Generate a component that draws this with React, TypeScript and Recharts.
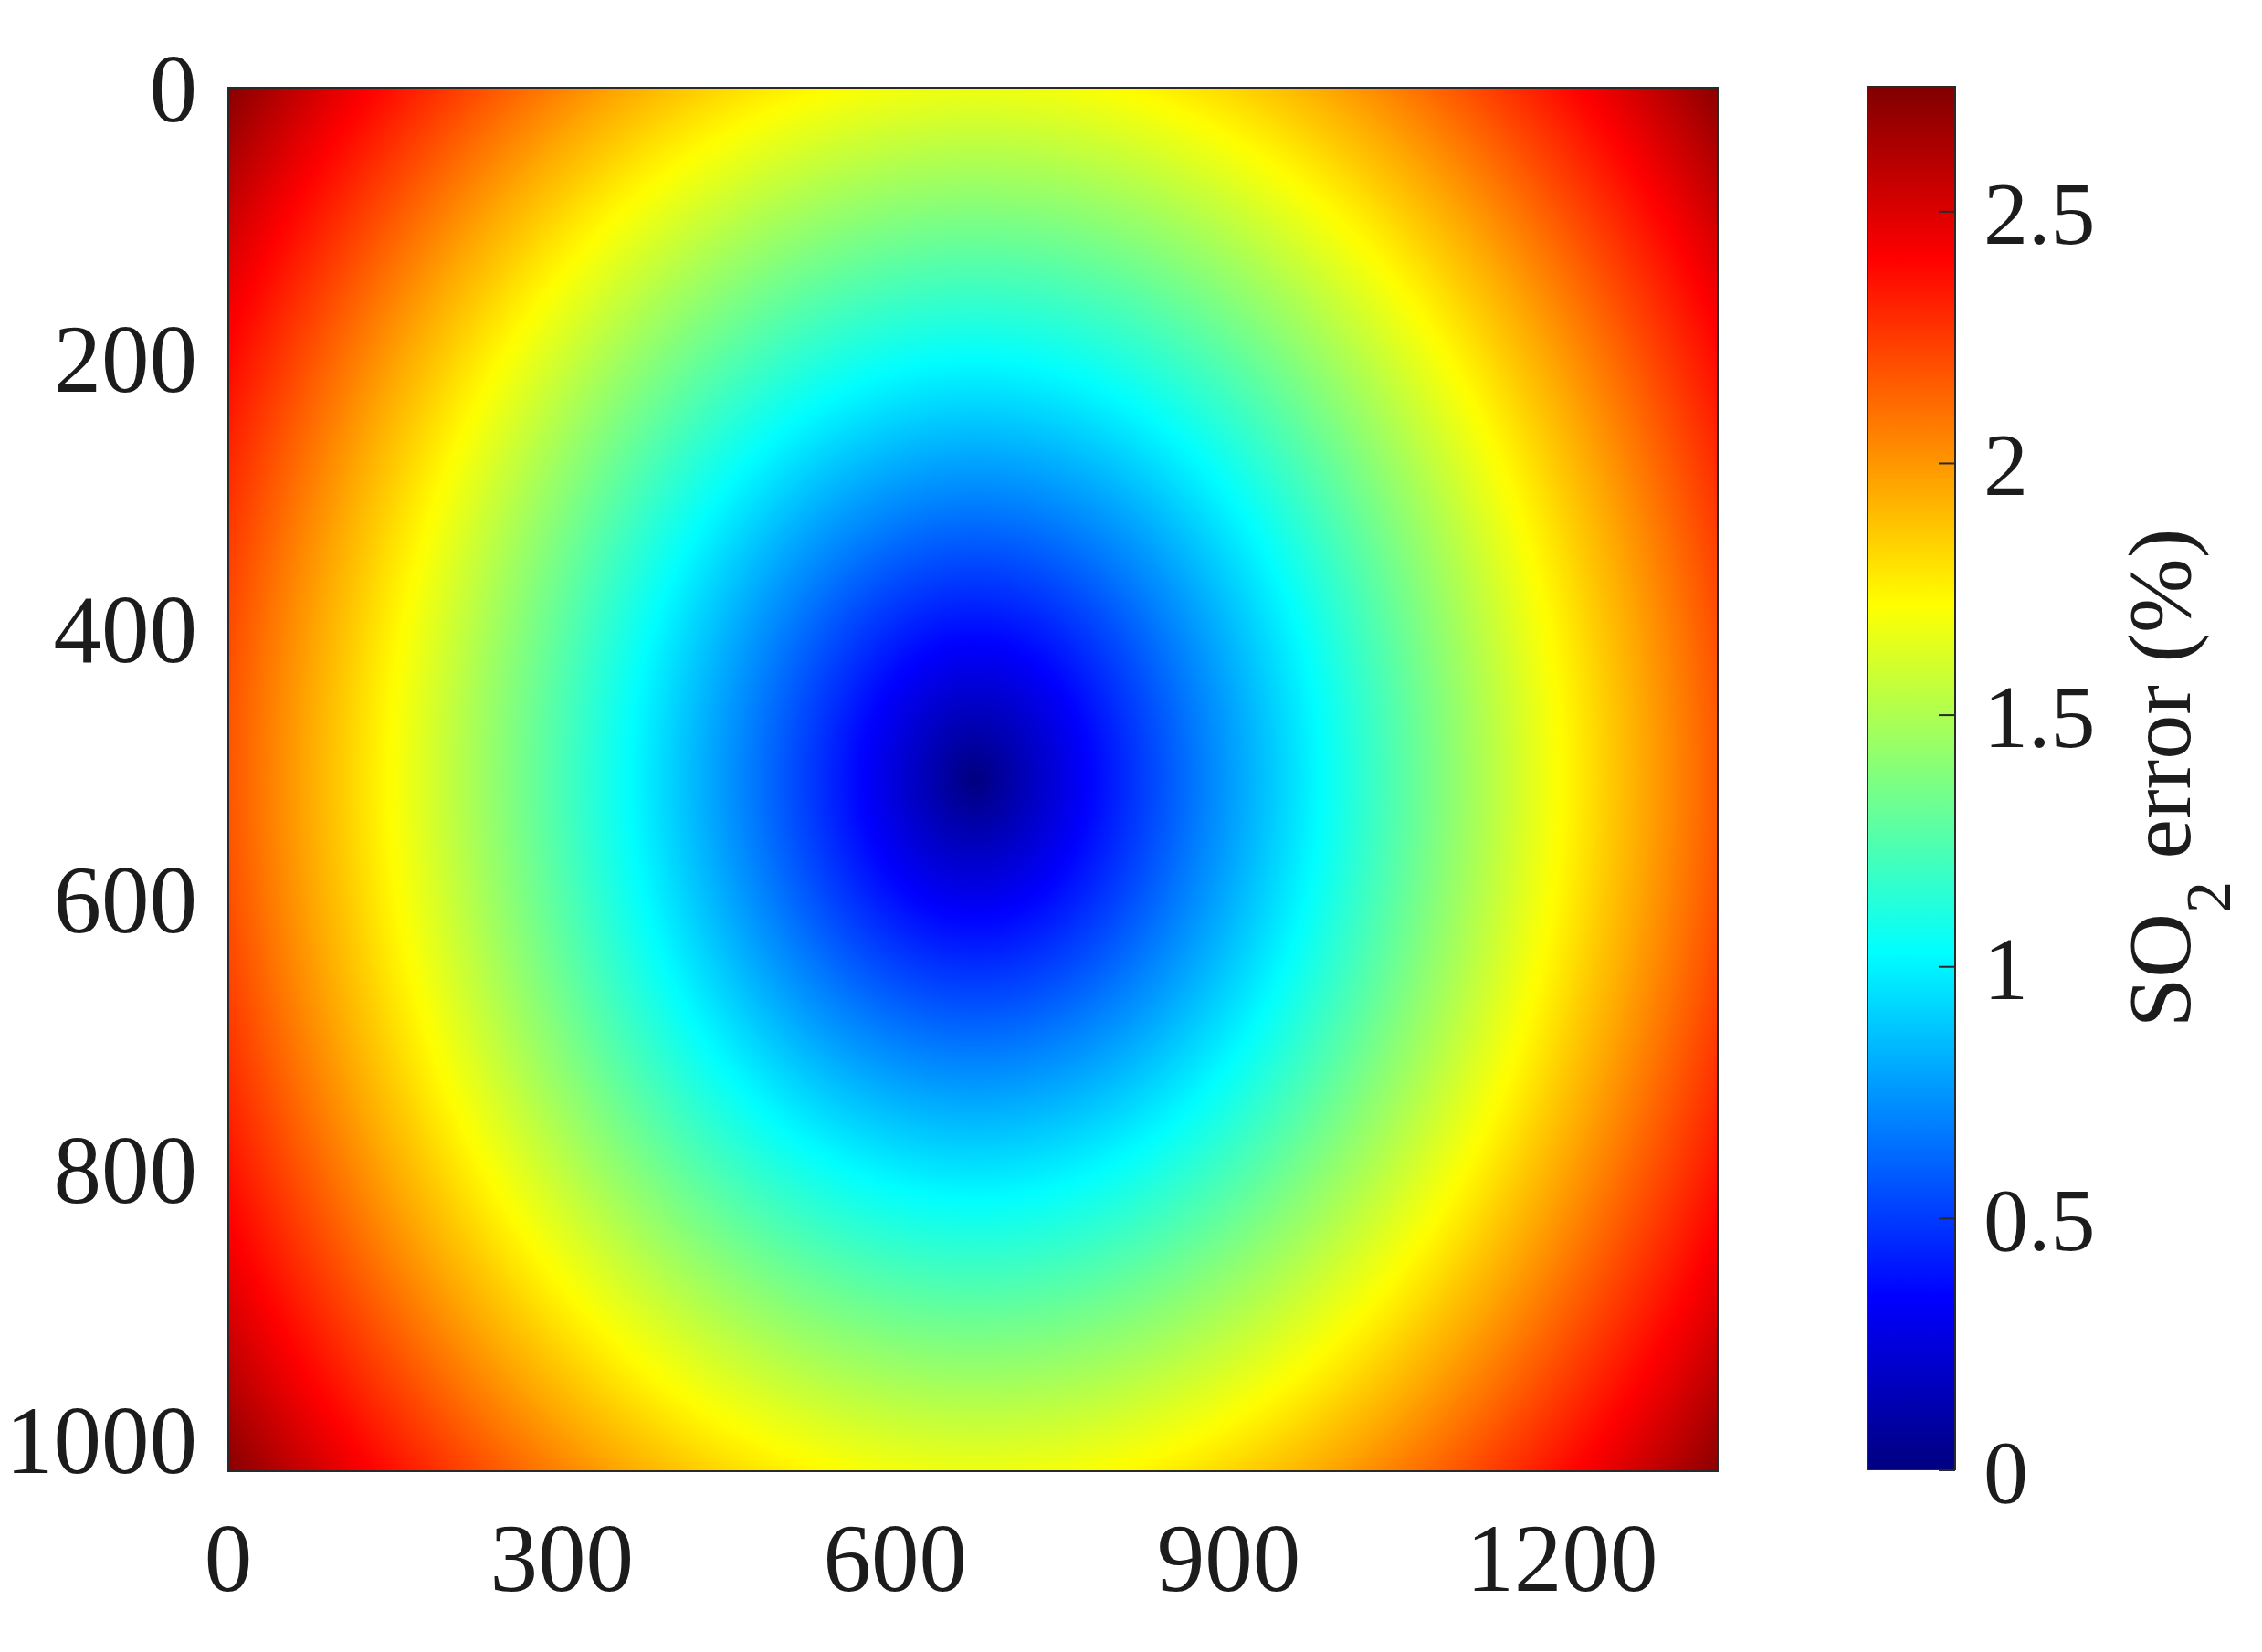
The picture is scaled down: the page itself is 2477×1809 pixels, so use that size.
import { ComposedChart, BarChart, Bar, XAxis, YAxis, ReferenceArea } from 'recharts';

// image grid (pixels)
const X_MAX = 1340;
const Y_MAX = 1024;
const X_TICKS = [0, 300, 600, 900, 1200];
const Y_TICKS = [0, 200, 400, 600, 800, 1000];

// error minimum sits in the middle of the frame
const CENTER_X = 672;
const CENTER_Y = 512;

// radial profile: distance from centre (px) -> SO2 error (%)
const profileRadius = [0, 100, 200, 311, 400, 526, 600, 672, 760, 845];
const profileError = [0, 0.34, 0.67, 1.03, 1.32, 1.72, 1.95, 2.18, 2.45, 2.73];

// colorbar
const CB_MAX = 2.75;
const CB_TICKS = [0, 0.5, 1, 1.5, 2, 2.5];
const colorbarData = [{ name: 'error', value: CB_MAX }];

const FONT = '"Liberation Serif", "Times New Roman", serif';
const TEXT = '#1c1c1c';
const FRAME = '#2a2a2a';

function clamp01(v: number) {
  return Math.max(0, Math.min(1, v));
}

function jet(t: number) {
  const x = clamp01(t);
  const r = clamp01(1.5 - Math.abs(4 * x - 3));
  const g = clamp01(1.5 - Math.abs(4 * x - 2));
  const b = clamp01(1.5 - Math.abs(4 * x - 1));
  return `rgb(${Math.round(r * 255)},${Math.round(g * 255)},${Math.round(b * 255)})`;
}

function errorAt(r: number) {
  for (let i = 1; i < profileRadius.length; i++) {
    if (r <= profileRadius[i]) {
      const f = (r - profileRadius[i - 1]) / (profileRadius[i] - profileRadius[i - 1]);
      return profileError[i - 1] + f * (profileError[i] - profileError[i - 1]);
    }
  }
  return profileError[profileError.length - 1];
}

const R_MAX = profileRadius[profileRadius.length - 1];
const radialStops = Array.from({ length: 121 }, (_, i) => {
  const t = i / 120;
  return { offset: t, color: jet(errorAt(t * R_MAX) / CB_MAX) };
});
const cbStops = [0, 0.125, 0.375, 0.625, 0.875, 1];

function ColorbarTick(props: any) {
  const { x, y, payload } = props;
  return (
    <g>
      <line x1={x - 31 - 18} x2={x - 31} y1={y} y2={y} stroke={FRAME} strokeWidth={2} />
      <text x={x} y={y} dy="0.355em" textAnchor="start" fontSize={98} fontFamily={FONT} fill={TEXT}>
        {payload.value}
      </text>
    </g>
  );
}

function ColorbarLabel(props: any) {
  const { x, y, width, height } = props.viewBox || {};
  const lx = x + width;
  const ly = y + height / 2;
  return (
    <text
      x={lx}
      y={ly}
      transform={`rotate(-90 ${lx} ${ly})`}
      textAnchor="middle"
      fontSize={98}
      fontFamily={FONT}
      fill={TEXT}
    >
      SO
      <tspan dy={44} fontSize={70}>2</tspan>
      <tspan dy={-44}> error (%)</tspan>
    </text>
  );
}

const tickStyle = { fontSize: 105, fontFamily: FONT, fill: TEXT };
const cx = CENTER_X / X_MAX;
const cy = CENTER_Y / Y_MAX;

export default function App() {
  return (
    <div style={{ position: 'absolute', left: 0, top: 0, width: 2477, height: 1809, background: '#fff' }}>
      <div style={{ position: 'absolute', left: 0, top: 0 }}>
        <ComposedChart width={1960} height={1809} margin={{ top: 96, right: 79, bottom: 0, left: 0 }}>
          <defs>
            <radialGradient
              id="errorField"
              gradientUnits="objectBoundingBox"
              cx={cx}
              cy={cy}
              r={R_MAX / X_MAX}
              gradientTransform={`translate(${cx} ${cy}) scale(1 ${X_MAX / Y_MAX}) translate(${-cx} ${-cy})`}
            >
              {radialStops.map((s) => (
                <stop key={s.offset} offset={s.offset} stopColor={s.color} />
              ))}
            </radialGradient>
          </defs>
          <XAxis
            type="number"
            dataKey="x"
            domain={[0, X_MAX]}
            ticks={X_TICKS}
            height={198}
            tick={tickStyle}
            tickSize={0}
            tickMargin={56}
            axisLine={false}
            tickLine={false}
            allowDataOverflow
          />
          <YAxis
            type="number"
            dataKey="y"
            reversed
            domain={[0, Y_MAX]}
            ticks={Y_TICKS}
            width={250}
            tick={tickStyle}
            tickSize={0}
            tickMargin={34}
            axisLine={false}
            tickLine={false}
            allowDataOverflow
          />
          <ReferenceArea
            x1={0}
            x2={X_MAX}
            y1={0}
            y2={Y_MAX}
            fill="url(#errorField)"
            fillOpacity={1}
            stroke={FRAME}
            strokeWidth={2}
            ifOverflow="visible"
          />
        </ComposedChart>
      </div>
      <div style={{ position: 'absolute', left: 1960, top: 0 }}>
        <BarChart
          width={517}
          height={1809}
          data={colorbarData}
          barCategoryGap={0}
          margin={{ top: 94, right: 79, bottom: 199, left: 85 }}
        >
          <defs>
            <linearGradient id="jetBar" x1="0" y1="1" x2="0" y2="0">
              {cbStops.map((t) => (
                <stop key={t} offset={t} stopColor={jet(t)} />
              ))}
            </linearGradient>
          </defs>
          <XAxis dataKey="name" hide />
          <YAxis
            orientation="right"
            type="number"
            domain={[0, CB_MAX]}
            ticks={CB_TICKS}
            width={257}
            tick={<ColorbarTick />}
            tickSize={0}
            tickMargin={31}
            axisLine={false}
            tickLine={false}
            allowDataOverflow
            label={<ColorbarLabel />}
          />
          <Bar dataKey="value" fill="url(#jetBar)" stroke={FRAME} strokeWidth={2} isAnimationActive={false} />
        </BarChart>
      </div>
    </div>
  );
}
